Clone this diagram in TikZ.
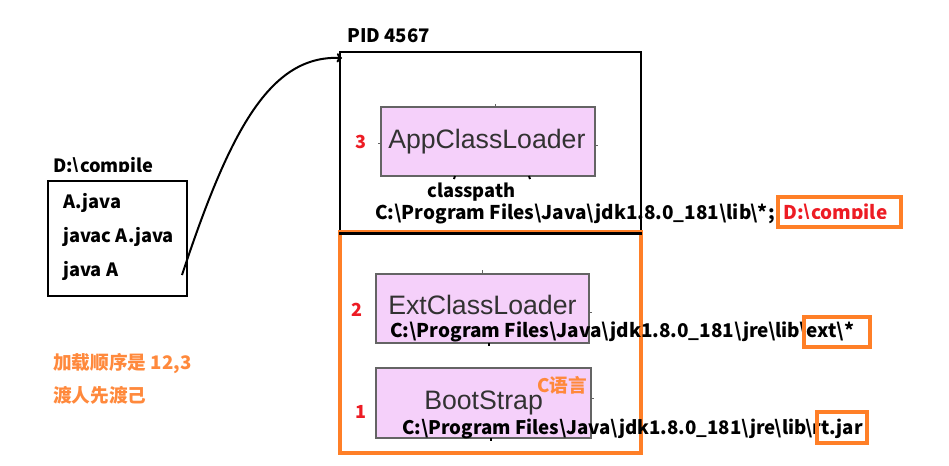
\documentclass[tikz,border=0pt]{standalone}
\usepackage{fontspec}
\usetikzlibrary{arrows.meta,fit}
\newfontfamily\yh{Noto Sans CJK SC}
\newfontfamily\ar{Liberation Sans}
\definecolor{pinkfill}{RGB}{245,208,250}
\definecolor{boxline}{RGB}{100,100,100}
\definecolor{myred}{RGB}{237,28,36}
\definecolor{myorange}{RGB}{255,127,39}
\definecolor{ortext}{RGB}{255,137,60}
\definecolor{ltext}{RGB}{50,50,50}
\begin{document}
\begin{tikzpicture}[x=0.75pt,y=-0.75pt,
  blk/.style={font=\yh\bfseries\fontsize{14.2}{15}\selectfont, inner sep=0pt, anchor=base west},
  small/.style={font=\yh\bfseries\fontsize{13.7}{15}\selectfont, inner sep=0pt, anchor=base west},
  frame/.style={inner sep=0pt, line width=2.2pt},
  loader/.style={draw=boxline, line width=0.9pt, fill=pinkfill, inner sep=0pt},
  ltxt/.style={font=\ar\fontsize{20}{22}\selectfont, text=ltext, inner sep=0pt, anchor=base west},
  num/.style={font=\yh\bfseries\fontsize{13.5}{14}\selectfont, text=myred, inner sep=0pt, anchor=base west},
  otxt/.style={font=\yh\bfseries\fontsize{14}{15}\selectfont, text=ortext, inner sep=0pt, anchor=base west},
  tick/.style={draw=boxline, line width=0.6pt},
  btick/.style={draw=black, line width=1.5pt},
  obox/.style={draw=myorange, line width=2.4pt, inner sep=0pt},
]
\useasboundingbox (0,0) rectangle (949,465);
\fill[white] (0,0) rectangle (949,465);

% process box
\node[frame, draw=black, fit={(340,52) (641,232)}] (pid) {};
\node[font=\yh\bfseries\fontsize{14}{15}\selectfont, inner sep=0pt, anchor=base west] (pidlbl) at (347,42) {PID 4567};

% orange box
\node[obox, fit={(340,232) (641,453)}] (ext) {};
\draw[black, line width=2.2pt] (pid.south west) -- (pid.south east);

% App class loader
\node[loader, fit={(381,107) (595,176)}] (app) {};
\node[ltxt] (apptxt) at (388,148) {AppClassLoader};
\draw[tick] (495,104) -- (495,107);
\draw[tick] (378,143) -- (381,143);
\draw[tick] (595,145) -- (598,145);
\draw[btick] (455,176) -- (454,179);
\draw[btick] (529,176) -- (530,179);
\node[num] (n3) at (355,148) {3};
\node[small] (cp) at (427,197) {classpath};
\node[blk] (apppath) at (375,219) {C:\textbackslash Program Files\textbackslash Java\textbackslash jdk1.8.0\_181\textbackslash lib\textbackslash *;};

\node[obox, fit={(778,197) (901,227)}] (cbox) {};
\begin{scope}
\clip (778,190) rectangle (901,218);
\node[blk, text=myred] (ctxt) at (783,219) {D:\textbackslash compile};
\end{scope}

% Ext class loader
\node[loader, fit={(376,274) (589,343)}] (extl) {};
\node[ltxt] (exttxt) at (388,314) {ExtClassLoader};
\draw[tick] (482,270) -- (482,274);
\draw[tick] (589,312) -- (592,312);
\draw[btick] (489,343) -- (489,346);
\node[num] (n2) at (351,316) {2};
\node[blk] (extpath) at (390,337) {C:\textbackslash Program Files\textbackslash Java\textbackslash jdk1.8.0\_181\textbackslash jre\textbackslash lib\textbackslash ext\textbackslash *};
\node[obox, fit={(804,317) (870,347)}] (extbox) {};

% BootStrap
\node[loader, fit={(376,368) (591,438)}] (boot) {};
\node[ltxt] (boottxt) at (424,409) {BootStrap};
\draw[tick] (591,398) -- (594,398);
\draw[btick] (491,438) -- (491,441);
\node[num] (n1) at (355,418) {1};
\node[otxt] (clang) at (537,392) {C语言};
\node[blk, font=\yh\bfseries\fontsize{14}{15}\selectfont] (bootpath) at (402,434) {C:\textbackslash Program Files\textbackslash Java\textbackslash jdk1.8.0\_181\textbackslash jre\textbackslash lib\textbackslash rt.jar};
\node[obox, fit={(817,412) (867,443)}] (rtbox) {};

% left box
\node[frame, draw=black, fit={(48,181) (187,296)}] (src) {};
\begin{scope}
\clip (40,150) rectangle (200,171);
\node[small] (srclbl) at (53,172) {D:\textbackslash compile};
\end{scope}
\node[small] (f1) at (63,208) {A.java};
\node[small] (f2) at (63,242) {javac A.java};
\node[small] (f3) at (63,276) {java A};
\coordinate (start) at (182,275);
\coordinate (tip) at (342,58);
\draw[line width=1.5pt, -{To[length=4pt,width=7pt]}] (start) .. controls (230,130) and (270,55) .. (tip);

\node[otxt] (o1) at (53,369) {加载顺序是 12,3};
\node[otxt] (o2) at (53,402) {渡人先渡己};
\end{tikzpicture}
\end{document}
